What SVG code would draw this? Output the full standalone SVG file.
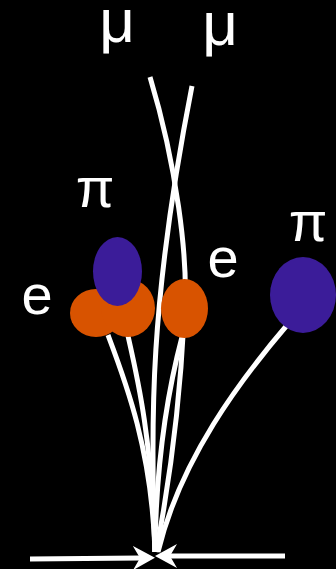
<svg xmlns="http://www.w3.org/2000/svg" width="336" height="569" viewBox="0 0 336 569">
  <style>
    .track { fill: none; stroke: #ffffff; stroke-width: 5; stroke-linecap: butt; }
    .beam { fill: none; stroke: #ffffff; stroke-width: 5; }
    .ecal { fill: #d85300; }
    .hcal { fill: #3b1c99; }
    .lbl { fill: #ffffff; font-family: "Liberation Sans", Arial, sans-serif; font-size: 56px; text-anchor: middle; }
    .mu { font-size: 62px; }
  </style>
  <defs>
    <marker id="beamHead" viewBox="0 -12 22 24" refX="7" refY="0" markerWidth="22" markerHeight="24" markerUnits="userSpaceOnUse" orient="auto">
      <path d="M0,-12 L22,0 L0,12 L7,0 z" fill="#ffffff"/>
    </marker>
  </defs>
  <rect x="0" y="0" width="336" height="569" fill="#000000"/>

  <!-- tracks from the interaction point -->
  <g id="connectors">
    <path class="track" d="M192,86 C150,300 150,420 155,552"/>
    <path class="track" d="M150,77 C175,160 190,260 184,320 C180,400 170,480 156,552"/>
    <path class="track" d="M182,337 C168,390 156,460 155,552"/>
    <path class="track" d="M108,335 C125,380 152,450 155,552"/>
    <path class="track" d="M128,336 C138,380 152,440 155,552"/>
    <path class="track" d="M288,324 C240,380 180,460 158,552"/>
    <line class="beam" x1="30" y1="559" x2="140" y2="558" marker-end="url(#beamHead)"/>
    <line class="beam" x1="285" y1="556" x2="170" y2="556" marker-end="url(#beamHead)"/>
  </g>

  <g id="mu1"><text class="lbl mu" x="117" y="42">μ</text></g>
  <g id="mu2"><text class="lbl mu" x="220" y="45">μ</text></g>

  <g id="e-left">
    <ellipse class="ecal" cx="96" cy="313" rx="26" ry="24"/>
    <ellipse class="ecal" cx="128" cy="308" rx="27" ry="29"/>
    <text class="lbl" x="37" y="314">e</text>
  </g>
  <g id="pi-left">
    <ellipse class="hcal" cx="117.5" cy="271.5" rx="24.5" ry="34.5"/>
    <text class="lbl" x="95" y="207">π</text>
  </g>
  <g id="e-right">
    <ellipse class="ecal" cx="184.5" cy="308.5" rx="23.5" ry="29.5"/>
    <text class="lbl" x="223" y="277">e</text>
  </g>
  <g id="pi-right">
    <ellipse class="hcal" cx="303" cy="295" rx="33" ry="38"/>
    <text class="lbl" x="308" y="241">π</text>
  </g>
</svg>
